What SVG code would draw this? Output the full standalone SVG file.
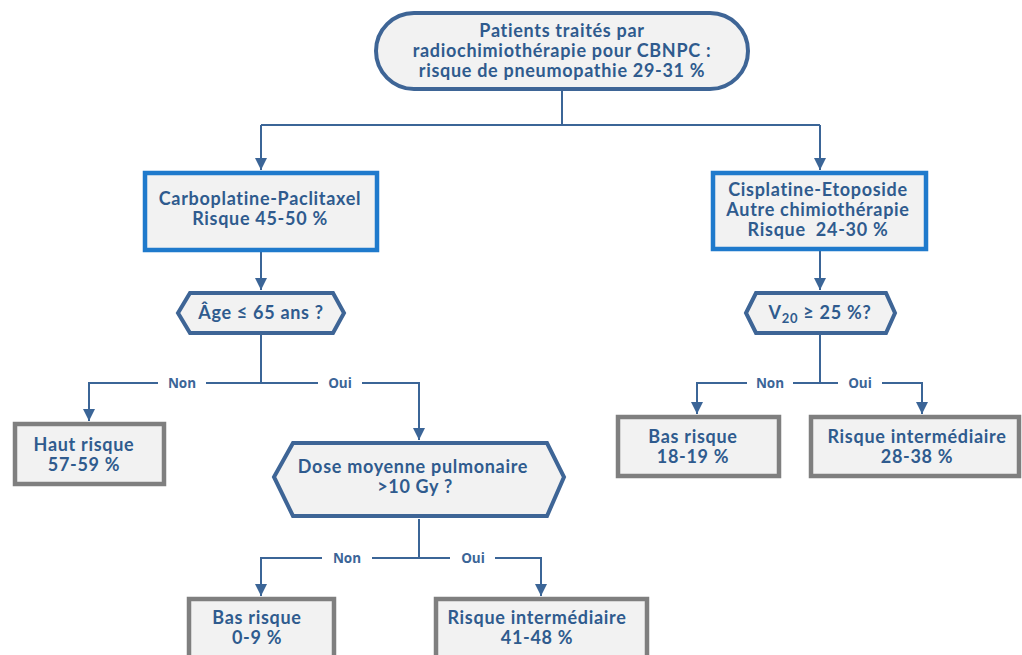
<svg xmlns="http://www.w3.org/2000/svg" width="1022" height="655" viewBox="0 0 1022 655">
<defs>
<marker id="arr" viewBox="0 0 10 10" refX="10" refY="5" markerWidth="6" markerHeight="6" orient="auto" markerUnits="strokeWidth">
<path d="M0,0 L10,5 L0,10 z" fill="#3b6597"/>
</marker>
<style>
.t{font-family:Lato,"Open Sans","Liberation Sans",sans-serif;font-weight:700;font-size:18px;letter-spacing:0.7px;fill:#2f5b8e;text-anchor:middle}
.lbl{font-family:"Open Sans",Lato,"Liberation Sans",sans-serif;font-weight:700;font-size:13.5px;fill:#3b6597;text-anchor:middle}
.ln{fill:none;stroke:#3b6597;stroke-width:2}
.pill{fill:#f2f2f2;stroke:#3e6596;stroke-width:4}
.blue{fill:#f2f2f2;stroke:#1f7acc;stroke-width:4.5}
.hex{fill:#f2f2f2;stroke:#3e6596;stroke-width:4;stroke-linejoin:miter}
.gray{fill:#f2f2f2;stroke:#7f7f7f;stroke-width:4.5}
</style>
</defs>
<rect width="1022" height="655" fill="#ffffff"/>
<g id="connectors">
<path class="ln" d="M562,90 V125"/>
<path class="ln" d="M261,125 H820"/>
<path class="ln" d="M261,125 V170" marker-end="url(#arr)"/>
<path class="ln" d="M820,125 V170" marker-end="url(#arr)"/>
<path class="ln" d="M261,252 V290" marker-end="url(#arr)"/>
<path class="ln" d="M820,251 V290" marker-end="url(#arr)"/>
<path class="ln" d="M261,335 V383"/>
<path class="ln" d="M158,383 H89 V421" marker-end="url(#arr)"/>
<path class="ln" d="M206,383 H318"/>
<path class="ln" d="M362,383 H419 V440" marker-end="url(#arr)"/>
<text class="lbl" x="182" y="388">Non</text>
<text class="lbl" x="340" y="388">Oui</text>
<path class="ln" d="M820,335 V383"/>
<path class="ln" d="M747,383 H697 V414" marker-end="url(#arr)"/>
<path class="ln" d="M793,383 H838"/>
<path class="ln" d="M882,383 H922 V414" marker-end="url(#arr)"/>
<text class="lbl" x="770" y="388">Non</text>
<text class="lbl" x="860" y="388">Oui</text>
<path class="ln" d="M419,519 V558"/>
<path class="ln" d="M322,558 H261 V596" marker-end="url(#arr)"/>
<path class="ln" d="M372,558 H450"/>
<path class="ln" d="M495,558 H541 V596" marker-end="url(#arr)"/>
<text class="lbl" x="347" y="563">Non</text>
<text class="lbl" x="473" y="563">Oui</text>
</g>
<g id="n-root">
<rect class="pill" x="376" y="13" width="372" height="76" rx="38" ry="38"/>
<text class="t" x="562" y="37">Patients traités par</text>
<text class="t" x="562" y="57">radiochimiothérapie pour CBNPC :</text>
<text class="t" x="562" y="77">risque de pneumopathie 29-31 %</text>
</g>
<g id="n-carbo">
<rect class="blue" x="145" y="173" width="232" height="77"/>
<text class="t" x="260" y="205">Carboplatine-Paclitaxel</text>
<text class="t" x="260" y="225">Risque 45-50 %</text>
</g>
<g id="n-cispl">
<rect class="blue" x="713" y="173" width="213" height="76"/>
<text class="t" x="818" y="196">Cisplatine-Etoposide</text>
<text class="t" x="818" y="216">Autre chimiothérapie</text>
<text class="t" x="818" y="236" xml:space="preserve">Risque  24-30 %</text>
</g>
<g id="n-age">
<polygon class="hex" points="178,313 190,293 333,293 344,313 333,333 190,333"/>
<text class="t" x="261" y="319">Âge ≤ 65 ans ?</text>
</g>
<g id="n-v20">
<polygon class="hex" points="746,313 756,293 886,293 895,313 886,333 756,333"/>
<text class="t" x="820" y="319">V<tspan font-size="13" dy="4">20</tspan><tspan dy="-4"> ≥ 25 %?</tspan></text>
</g>
<g id="n-haut">
<rect class="gray" x="15" y="424" width="149" height="60"/>
<text class="t" x="84" y="451">Haut risque</text>
<text class="t" x="84" y="471">57-59 %</text>
</g>
<g id="n-dose">
<polygon class="hex" points="274,477 293,443 547,443 564,477 547,516 293,516"/>
<text class="t" x="413" y="473">Dose moyenne pulmonaire</text>
<text class="t" x="415" y="493">&gt;10 Gy ?</text>
</g>
<g id="n-bas1819">
<rect class="gray" x="618" y="417" width="161" height="59"/>
<text class="t" x="693" y="443">Bas risque</text>
<text class="t" x="693" y="463">18-19 %</text>
</g>
<g id="n-int2838">
<rect class="gray" x="811" y="417" width="208" height="59"/>
<text class="t" x="917" y="443">Risque intermédiaire</text>
<text class="t" x="917" y="463">28-38 %</text>
</g>
<g id="n-bas09">
<rect class="gray" x="189" y="599" width="145" height="70"/>
<text class="t" x="257" y="624">Bas risque</text>
<text class="t" x="257" y="644">0-9 %</text>
</g>
<g id="n-int4148">
<rect class="gray" x="436" y="599" width="211" height="70"/>
<text class="t" x="537" y="624">Risque intermédiaire</text>
<text class="t" x="537" y="644">41-48 %</text>
</g>
</svg>
